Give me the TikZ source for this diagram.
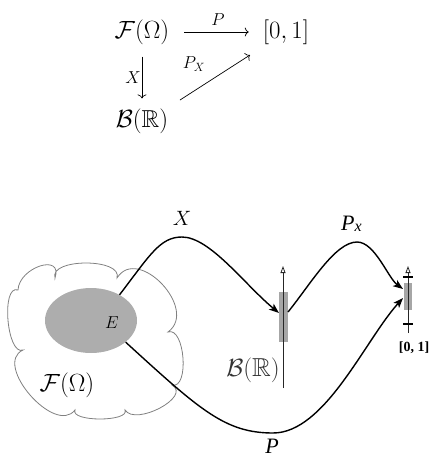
\documentclass[tikz,border=0pt]{standalone}
\usepackage{amssymb}
\usepackage{fontspec}
\newfontfamily\tms{Liberation Serif}
\usetikzlibrary{arrows.meta,shapes.geometric}
\tikzset{
  bigmath/.style={font=\fontsize{24.5}{30}\selectfont, inner sep=0pt},
  lbl/.style={font=\fontsize{17}{20}\selectfont, inner sep=0pt},
  thinarr/.style={line width=0.7pt, -{To[length=4pt,width=9pt]}},
  curvearr/.style={line width=1.4pt, -{Stealth[length=10pt,width=7.5pt,inset=2.5pt]}},
  axisline/.style={line width=0.9pt, black!85, -{Triangle[open,length=7pt,width=5pt,line width=0.8pt]}},
  cloudline/.style={draw=black!50, line width=0.8pt},
  graybar/.style={fill=black!35, draw=none, inner sep=0pt},
  tickline/.style={line width=1.8pt},
  tlabel/.style={inner sep=0pt},
}
\begin{document}
\begin{tikzpicture}[x=1pt,y=-1pt]
\useasboundingbox (0,0) rectangle (431,459);
% ---------- top commutative diagram ----------
\node[bigmath] (tF) at (142,32) {$\mathcal{F}(\Omega)$};
\node[bigmath] (tI) at (286,32) {$[0,1]$};
\node[bigmath] (tB) at (142,121) {$\mathcal{B}(\mathbb{R})$};
\draw[thinarr, shorten <=15pt, shorten >=14pt] (tF.east) -- (tI.west);
\draw[thinarr] ([yshift=-12pt]tF.south) -- ([yshift=10pt]tB.north);
\coordinate (d1) at (180,100);
\coordinate (d2) at (250,55);
\draw[thinarr] (d1) -- (d2);
\node[lbl] (lP) at (218,20) {$P$};
\node[lbl] (lX) at (133,78) {$X$};
\node[lbl] (lPX) at (194,64) {$P_X$};
% ---------- bottom picture ----------
\draw[cloudline] (18,290) .. controls (19,267.2) and (63.4,252.8) .. (55,278)
  .. controls (48.8,258) and (123.2,258) .. (117,278)
  .. controls (137.9,244.6) and (199.1,309.4) .. (168,332)
  .. controls (184.9,326) and (189.7,389.6) .. (172,385)
  .. controls (192,396.5) and (135.6,426.5) .. (125,410)
  .. controls (130,422) and (70,422) .. (75,410)
  .. controls (54.9,436) and (-7.5,364) .. (23,350)
  .. controls (6.8,356) and (0.8,284) .. (18,290) -- cycle;
\node[ellipse, fill=black!32, draw=none, minimum width=92pt, minimum height=65pt, inner sep=0pt] (Eset) at (91,320.5) {};
\node[font=\fontsize{17.5}{20}\selectfont, inner sep=0pt] (Elbl) at (112,323) {$E$};
\node[font=\fontsize{26}{30}\selectfont, inner sep=0pt] (Fbot) at (67,385) {$\mathcal{F}(\Omega)$};
% B(R) axis
\node[graybar, minimum width=9pt, minimum height=50pt] (Bbar) at (283.5,317) {};
\coordinate (Bbot) at (283,388);
\coordinate (Btop) at (283,266);
\draw[axisline] (Bbot) -- (Btop);
\node[font=\fontsize{26}{30}\selectfont, inner sep=0pt, text=black!80] (Blbl) at (253,370) {$\mathcal{B}(\mathbb{R})$};
% [0,1] axis
\node[graybar, minimum width=8pt, minimum height=27pt] (Ibar) at (408,296.5) {};
\coordinate (Ibot) at (408,333);
\coordinate (Itop) at (408,266);
\draw[axisline] (Ibot) -- (Itop);
\draw[tickline] (403,277) -- (413,277);
\draw[tickline] (403,324) -- (413,324);
\node[tlabel] (Ilbl) at (414,348) {\tms\bfseries\fontsize{14}{16}\selectfont [0, 1]};
% curves
\coordinate (xend) at (279,313);
\coordinate (pxs) at (288,312);
\coordinate (pxe) at (403,289);
\coordinate (pe) at (403,298);
\draw[curvearr] (Eset.42) .. controls (150,255) and (160,237) .. (182,237)
  .. controls (210,237) and (245,285) .. (xend);
\draw[curvearr] (pxs) .. controls (310,285) and (335,242) .. (357,242)
  .. controls (375,242) and (388,278) .. (pxe);
\draw[curvearr] (Eset.-32) .. controls (200,410) and (225,433) .. (273,433)
  .. controls (325,433) and (365,340) .. (pe);
\node[font=\fontsize{21}{24}\selectfont, inner sep=0pt] (Xlbl) at (182,218) {$X$};
\node[tlabel, anchor=base west] (PXlbl) at (341,230) {\tms\itshape\fontsize{22}{26}\selectfont P\fontsize{16}{20}\selectfont\raisebox{-1pt}{x}};
\node[tlabel, anchor=base] (Plbl) at (272,453) {\tms\itshape\fontsize{22}{26}\selectfont P};
\end{tikzpicture}
\end{document}
